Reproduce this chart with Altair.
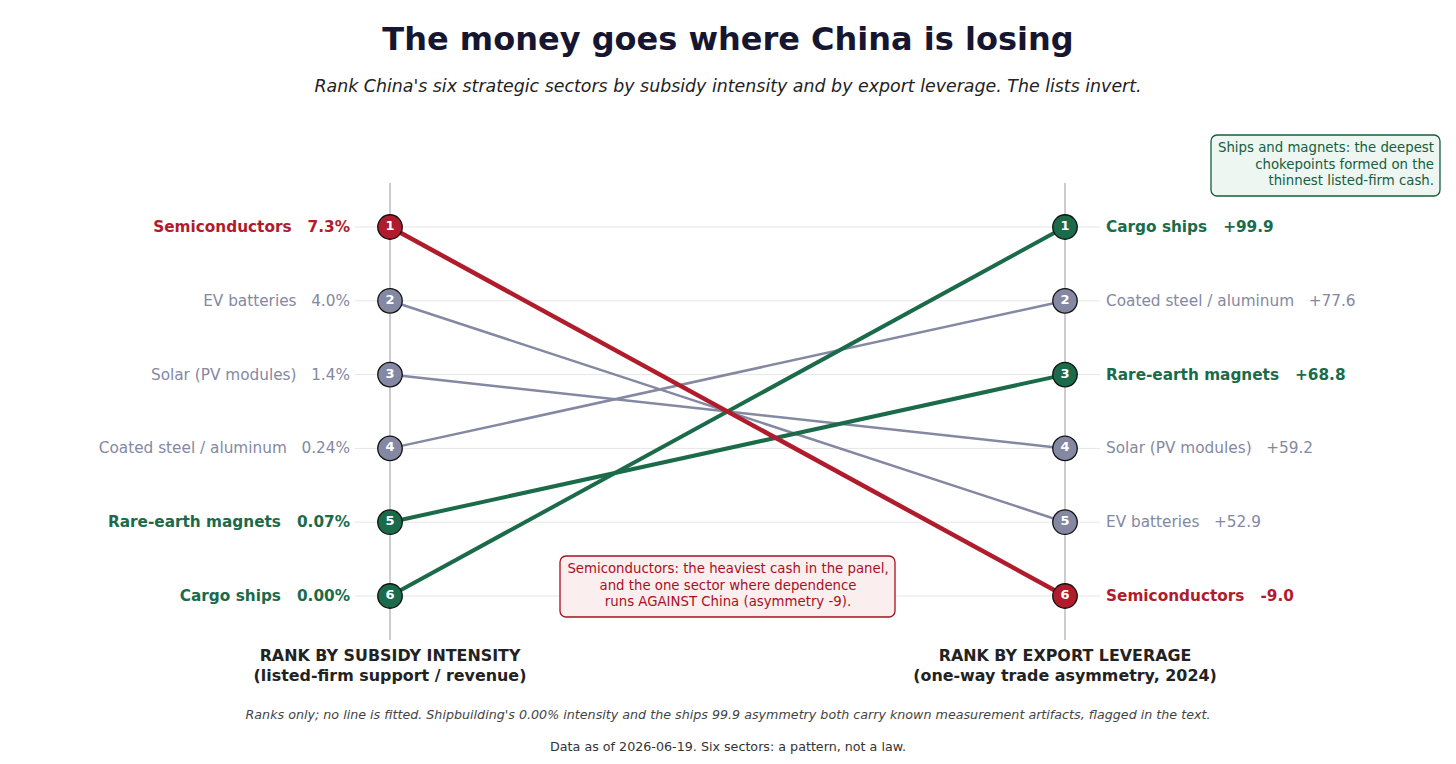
import altair as alt
import pandas as pd

sectors = ["Semiconductors", "EV batteries", "Solar (PV modules)",
           "Coated steel / aluminum", "Rare-earth magnets", "Cargo ships"]
subsidy_rank = [1, 2, 3, 4, 5, 6]
subsidy_value = ["7.3%", "4.0%", "1.4%", "0.24%", "0.07%", "0.00%"]
leverage_rank = [6, 5, 4, 2, 3, 1]
leverage_value = ["-9.0", "+52.9", "+59.2", "+77.6", "+68.8", "+99.9"]
group = ["against", "neutral", "neutral", "neutral", "leverage", "leverage"]

SP = "\u00a0\u00a0\u00a0"
rows = []
for i, s in enumerate(sectors):
    rows.append(dict(sector=s, side=0, rank=subsidy_rank[i], group=group[i],
                     label=f"{s}{SP}{subsidy_value[i]}", num=str(subsidy_rank[i])))
    rows.append(dict(sector=s, side=1, rank=leverage_rank[i], group=group[i],
                     label=f"{s}{SP}{leverage_value[i]}", num=str(leverage_rank[i])))
df = pd.DataFrame(rows)

FONT = "DejaVu Sans"
RED = "#b01c2b"
GREEN = "#1b6b4a"
GREY = "#8488a2"
RED_T = "#a8101e"
GREEN_T = "#155e3e"
GREY_T = "#7a8199"

color_scale = alt.Scale(domain=["against", "neutral", "leverage"], range=[RED, GREY, GREEN])
text_scale = alt.Scale(domain=["against", "neutral", "leverage"], range=[RED_T, GREY_T, GREEN_T])

X = alt.X("side:Q", scale=alt.Scale(domain=[0, 1], range=[390, 1065]), axis=None)
Y = alt.Y("rank:Q", scale=alt.Scale(domain=[1, 6], range=[227, 596]), axis=None)

base = alt.Chart(df)

grid = alt.Chart(pd.DataFrame({"rank": [1, 2, 3, 4, 5, 6]})).mark_rule(
    color="#e6e6e6", strokeWidth=1
).encode(x=alt.value(355), x2=alt.value(1100), y=Y)

axes_df = pd.DataFrame({"side": [0, 1]})
vaxes = alt.Chart(axes_df).mark_rule(color="#bdbdbd", strokeWidth=1.5).encode(
    x=X, y=alt.value(183), y2=alt.value(640))

grey_lines = base.transform_filter("datum.group == 'neutral'").mark_line(
    strokeWidth=2.5).encode(x=X, y=Y, detail="sector:N",
                             color=alt.Color("group:N", scale=color_scale, legend=None))
green_lines = base.transform_filter("datum.group == 'leverage'").mark_line(
    strokeWidth=4).encode(x=X, y=Y, detail="sector:N",
                           color=alt.Color("group:N", scale=color_scale, legend=None))
red_lines = base.transform_filter("datum.group == 'against'").mark_line(
    strokeWidth=4.5).encode(x=X, y=Y, detail="sector:N",
                             color=alt.Color("group:N", scale=color_scale, legend=None))

dots = base.mark_circle(size=600, opacity=1, stroke="#111111", strokeWidth=1.3).encode(
    x=X, y=Y, color=alt.Color("group:N", scale=color_scale, legend=None))
nums = base.mark_text(font=FONT, fontSize=13, fontWeight="bold", color="white",
                      baseline="middle", align="center", dy=-1).encode(x=X, y=Y, text="num:N")

def labels(side, bold):
    cond = "datum.side == %d && datum.group %s 'neutral'" % (side, "!=" if bold else "==")
    return base.transform_filter(cond).mark_text(
        font=FONT, fontSize=15.3, fontWeight="bold" if bold else "normal",
        align="right" if side == 0 else "left", baseline="middle",
        dx=-40 if side == 0 else 41
    ).encode(x=X, y=Y, text="label:N",
             color=alt.Color("group:N", scale=text_scale, legend=None))

one = pd.DataFrame({"a": [0]})

def txt(text, x, y, size, weight="normal", style="normal", color="#222222", align="center", lh=None):
    return alt.Chart(one).mark_text(
        font=FONT, fontSize=size, fontWeight=weight, fontStyle=style, color=color,
        align=align, baseline="middle", lineHeight=lh if lh else size * 1.3
    ).encode(x=alt.value(x), y=alt.value(y), text=alt.value(text))

title = txt("The money goes where China is losing", 728, 40, 32, weight="bold", color="#161630")
subtitle = txt("Rank China's six strategic sectors by subsidy intensity and by export leverage. The lists invert.",
               728, 87, 17.4, style="italic", color="#222222")

left_title = txt(["RANK BY SUBSIDY INTENSITY", "(listed-firm support / revenue)"], 390, 656, 15.9,
                 weight="bold", color="#222222", lh=20)
right_title = txt(["RANK BY EXPORT LEVERAGE", "(one-way trade asymmetry, 2024)"], 1065, 656, 15.9,
                  weight="bold", color="#222222", lh=20)

foot1 = txt("Ranks only; no line is fitted. Shipbuilding's 0.00% intensity and the ships 99.9 asymmetry both carry known measurement artifacts, flagged in the text.",
            728, 715, 12.7, style="italic", color="#444444")
foot2 = txt("Data as of 2026-06-19. Six sectors: a pattern, not a law.", 728, 747, 12.7, color="#333333")

red_box = alt.Chart(one).mark_rect(fill="#fbeeee", stroke=RED_T, strokeWidth=1.3, cornerRadius=6).encode(
    x=alt.value(560), x2=alt.value(895), y=alt.value(556), y2=alt.value(617))
red_note = txt(["Semiconductors: the heaviest cash in the panel,", "and the one sector where dependence",
                "runs AGAINST China (asymmetry -9)."], 728, 569, 13.3, color=RED_T, lh=16.6)

green_box = alt.Chart(one).mark_rect(fill="#eef6f1", stroke=GREEN_T, strokeWidth=1.3, cornerRadius=6).encode(
    x=alt.value(1211), x2=alt.value(1440), y=alt.value(135), y2=alt.value(196))
green_note = txt(["Ships and magnets: the deepest", "chokepoints formed on the",
                  "thinnest listed-firm cash."], 1434, 148, 13.3, color=GREEN_T, align="right", lh=16.6)

chart = alt.layer(
    grid, vaxes, grey_lines, green_lines, red_lines, dots, nums,
    labels(0, False), labels(0, True), labels(1, False), labels(1, True),
    title, subtitle, left_title, right_title, foot1, foot2,
    red_box, red_note, green_box, green_note
).properties(
    width=1456, height=764, padding=0,
    autosize=alt.AutoSizeParams(type="none"),
    background="white"
).configure_view(strokeWidth=0)

chart.save("out.html", embed_options={"renderer": "svg", "actions": False})
